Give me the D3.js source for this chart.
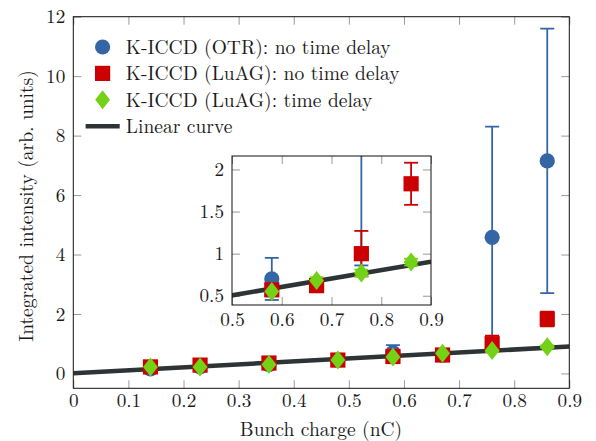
<!DOCTYPE html>
<html><head><meta charset="utf-8">
<script src="https://cdn.jsdelivr.net/npm/d3@7"></script>
<style>body{margin:0;background:#fff}svg{display:block}</style>
</head><body><svg id="c" width="596" height="441"></svg>
<script>
const charge = [0.14, 0.23, 0.355, 0.48, 0.58, 0.67, 0.76, 0.86];
const otrVal = [0.15, 0.22, 0.30, 0.45, 0.70, 0.62, 4.58, 7.15];
const otrErr = [0.05, 0.05, 0.06, 0.08, 0.25, 0.06, 3.72, 4.45];
const luagVal = [0.22, 0.28, 0.35, 0.45, 0.57, 0.62, 1.00, 1.83];
const luagErr = [0.04, 0.04, 0.05, 0.06, 0.07, 0.06, 0.27, 0.25];
const delayVal = [0.22, 0.22, 0.30, 0.45, 0.55, 0.68, 0.77, 0.90];
const delayErr = [0.03, 0.03, 0.03, 0.04, 0.04, 0.04, 0.04, 0.04];
const linear = [[0, 0.005], [0.9, 0.905]];
const xTicksMain = [0, 0.1, 0.2, 0.3, 0.4, 0.5, 0.6, 0.7, 0.8, 0.9];
const yTicksMain = [0, 2, 4, 6, 8, 10, 12];
const xTicksInset = [0.5, 0.6, 0.7, 0.8, 0.9];
const yTicksInset = [0.5, 1, 1.5, 2];
const legendLabels = ["K-ICCD (OTR): no time delay", "K-ICCD (LuAG): no time delay", "K-ICCD (LuAG): time delay", "Linear curve"];

const FONT = '"Latin Modern Roman","CMU Serif","Liberation Serif",serif';
const FS = 19.2;
const BLUE = "#3465a4", RED = "#cc0000", GREEN = "#73d216", DARK = "#2e3436";
const series = [
  {val: otrVal, err: otrErr, color: BLUE, shape: "circle"},
  {val: luagVal, err: luagErr, color: RED, shape: "square"},
  {val: delayVal, err: delayErr, color: GREEN, shape: "diamond"}
];
const svg = d3.select("#c");
const fmt = d => String(d);

function marker(g, shape, x, y, color) {
  if (shape === "circle") g.append("circle").attr("cx", x).attr("cy", y).attr("r", 7.6).attr("fill", color);
  else if (shape === "square") g.append("rect").attr("x", x - 7.6).attr("y", y - 7.6).attr("width", 15.2).attr("height", 15.2).attr("fill", color);
  else g.append("path").attr("d", `M${x},${y-9.5}L${x+7.4},${y}L${x},${y+9.5}L${x-7.4},${y}Z`).attr("fill", color);
}

function panel(x, y, xt, yt, clipId, pad) {
  const g = svg.append("g");
  const [x0, x1] = x.range(), [y0, y1] = y.range();
  g.append("clipPath").attr("id", clipId).append("rect").attr("x", x0).attr("y", y1).attr("width", x1 - x0).attr("height", y0 - y1);
  g.append("rect").attr("x", x0).attr("y", y1).attr("width", x1 - x0).attr("height", y0 - y1).attr("fill", "#fff");
  const gb = g.append("g").attr("transform", `translate(0,${y0})`).call(d3.axisBottom(x).tickValues(xt).tickFormat(fmt).tickSize(-8).tickPadding(pad));
  const gt = g.append("g").attr("transform", `translate(0,${y1})`).call(d3.axisTop(x).tickValues(xt).tickFormat("").tickSize(-8));
  const gl = g.append("g").attr("transform", `translate(${x0},0)`).call(d3.axisLeft(y).tickValues(yt).tickFormat(fmt).tickSize(-8).tickPadding(8));
  const gr = g.append("g").attr("transform", `translate(${x1},0)`).call(d3.axisRight(y).tickValues(yt).tickFormat("").tickSize(-8));
  [gb, gt, gl, gr].forEach(a => {
    a.select(".domain").remove();
    a.selectAll(".tick line").attr("stroke", "#999").attr("stroke-width", 1);
    a.selectAll("text").style("font-family", FONT).style("font-size", FS + "px").attr("fill", "#1a1a1a");
  });
  const pl = g.append("g").attr("clip-path", `url(#${clipId})`);
  pl.append("path").attr("d", d3.line().x(d => x(d[0])).y(d => y(d[1]))(linear)).attr("stroke", DARK).attr("stroke-width", 4.6).attr("fill", "none");
  series.forEach(s => {
    charge.forEach((c, i) => {
      const cx = x(c), lo = y(s.val[i] - s.err[i]), hi = y(s.val[i] + s.err[i]);
      pl.append("line").attr("x1", cx).attr("x2", cx).attr("y1", lo).attr("y2", hi).attr("stroke", s.color).attr("stroke-width", 1.8);
      [lo, hi].forEach(yy => pl.append("line").attr("x1", cx - 7).attr("x2", cx + 7).attr("y1", yy).attr("y2", yy).attr("stroke", s.color).attr("stroke-width", 1.8));
    });
  });
  series.forEach(s => charge.forEach((c, i) => marker(pl, s.shape, x(c), y(s.val[i]), s.color)));
  g.append("rect").attr("x", x0).attr("y", y1).attr("width", x1 - x0).attr("height", y0 - y1).attr("fill", "none").attr("stroke", "#111").attr("stroke-width", 1);
  return g;
}

// main
const xM = d3.scaleLinear().domain([0, 0.9]).range([73.3, 569.3]);
const yM = d3.scaleLinear().domain([-0.5, 12]).range([388.3, 16.7]);
panel(xM, yM, xTicksMain, yTicksMain, "clipM", 5.5);

// legend
const lg = svg.append("g");
legendLabels.forEach((t, i) => {
  const ly = 47 + i * 26.4;
  if (i < 3) marker(lg, series[i].shape, 102.6, ly, series[i].color);
  else lg.append("line").attr("x1", 85.6).attr("x2", 119.7).attr("y1", ly).attr("y2", ly).attr("stroke", DARK).attr("stroke-width", 4.6);
  lg.append("text").attr("x", 125.8).attr("y", ly + 7).style("font-family", FONT).style("font-size", "19.5px").attr("fill", "#1a1a1a").text(t);
});

// inset
const xI = d3.scaleLinear().domain([0.5, 0.9]).range([232, 431]);
const yI = d3.scaleLinear().domain([0.39, 2.16]).range([305, 156]);
panel(xI, yI, xTicksInset, yTicksInset, "clipI", 7);

// axis labels
svg.append("text").attr("x", 321).attr("y", 435.5).attr("text-anchor", "middle").style("font-family", FONT).style("font-size", "19.5px").attr("fill", "#1a1a1a").text("Bunch charge (nC)");
svg.append("text").attr("transform", "translate(33,206) rotate(-90)").attr("text-anchor", "middle").style("font-family", FONT).style("font-size", "19.5px").attr("fill", "#1a1a1a").text("Integrated intensity (arb. units)");
</script></body></html>
